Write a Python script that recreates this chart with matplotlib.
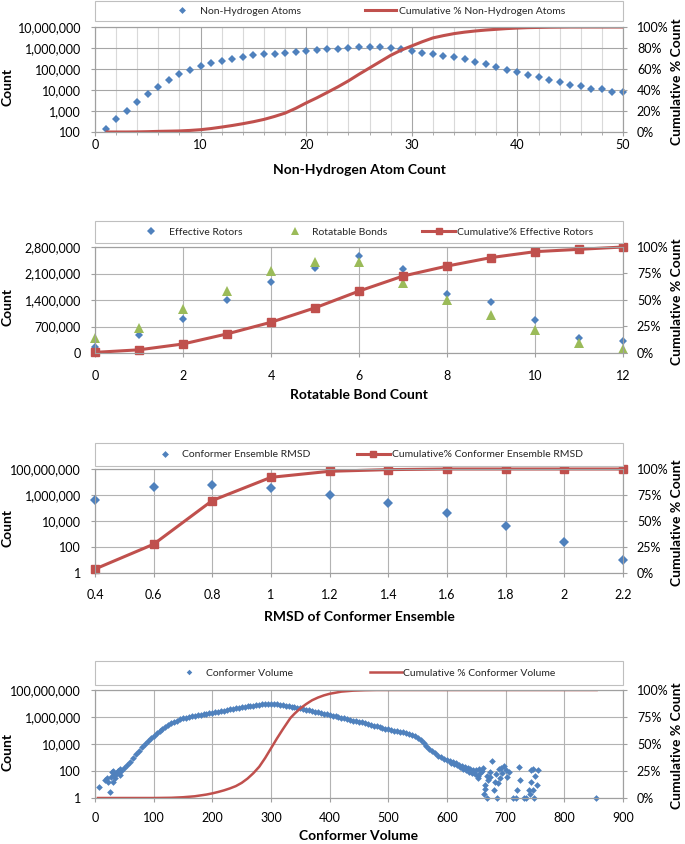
import matplotlib
matplotlib.use("Agg")
import matplotlib.pyplot as plt
from matplotlib.ticker import FuncFormatter, FixedLocator, MultipleLocator, NullLocator
from matplotlib.lines import Line2D
from matplotlib.patches import Rectangle

plt.rcParams['font.family'] = ['Lato', 'DejaVu Sans']

# ---------------- data ----------------
# Panel 1: non-hydrogen atoms
heavy_atoms = list(range(1, 51))
heavy_counts = [145, 420, 1050, 2600, 6300, 14000, 29000, 55000, 94000, 140000,
                190000, 250000, 310000, 370000, 450000, 500000, 540000, 600000, 660000, 710000,
                790000, 850000, 910000, 1000000, 1100000, 1100000, 1100000, 1000000, 920000, 720000,
                600000, 500000, 420000, 370000, 290000, 215000, 165000, 125000, 94000, 72000,
                52000, 41000, 29000, 24600, 17700, 15400, 11000, 11500, 7700, 7700]
heavy_cum_pct = [0, 0, 0, 0.1, 0.3, 0.6, 0.8, 1.0, 1.5, 2.2, 3.3, 4.7, 6.2, 7.9, 9.8, 12, 14.8, 18,
                 22.5, 27.7, 32.5, 37.7, 43, 48.7, 55, 61, 67, 73, 78, 82, 86, 89.6, 91.8, 93.7,
                 95.1, 96.2, 97.1, 97.8, 98.5, 99, 99.4, 99.6, 99.8, 99.9, 100, 100, 100, 100, 100, 100]

# Panel 2: rotatable bonds
rot_bonds = list(range(0, 13))
effective_rotors = [150000, 480000, 910000, 1404000, 1873000, 2235000, 2560000, 2210000,
                    1570000, 1340000, 883000, 389000, 327000]
rotatable_bonds = [400000, 662000, 1166000, 1650000, 2155000, 2400000, 2410000, 1855000,
                   1413000, 1016000, 618000, 265000, 106000]
rotors_cum_pct = [0.6, 3, 8.5, 18, 29, 42.6, 58.4, 72.6, 82, 90, 95.6, 97.8, 100]

# Panel 3: RMSD of conformer ensemble
rmsd = [0.4, 0.6, 0.8, 1.0, 1.2, 1.4, 1.6, 1.8, 2.0, 2.2]
rmsd_counts = [437000, 3900000, 6200000, 3200000, 980000, 224000, 43000, 4200, 250, 10]
rmsd_cum_pct = [3.8, 27.7, 69.7, 92, 97.8, 99.4, 100, 100, 100, 100]

# Panel 4: conformer volume
vol_left_x = [7, 17, 20, 23, 26, 27, 29, 30, 31, 32, 34, 36, 37, 39, 40, 42, 43]
vol_left_counts = [7, 21, 29, 16, 3, 38, 89, 16, 100, 50, 29, 60, 68, 100, 105, 130, 50]
vol_main_x = list(range(45, 601, 5))
vol_main_counts = [
    100, 160, 280, 500, 890, 1700, 3200, 5600, 10000, 18000,
    28000, 42000, 63000, 93000, 135000, 186000, 251000, 331000, 427000, 537000,
    661000, 776000, 891000, 1.0e6, 1.1e6, 1.2e6, 1.32e6, 1.45e6, 1.58e6, 1.74e6,
    1.91e6, 2.09e6, 2.29e6, 2.51e6, 2.75e6, 3.02e6, 3.31e6, 3.63e6, 3.98e6, 4.37e6,
    4.79e6, 5.25e6, 5.62e6, 6.03e6, 6.46e6, 6.92e6, 7.41e6, 7.94e6, 8.51e6, 8.91e6,
    9.33e6, 9.55e6, 9.55e6, 9.12e6, 8.32e6, 7.59e6, 6.92e6, 6.31e6, 5.75e6, 5.25e6,
    4.79e6, 4.37e6, 3.89e6, 3.47e6, 3.09e6, 2.75e6, 2.45e6, 2.19e6, 1.95e6, 1.74e6,
    1.55e6, 1.38e6, 1.23e6, 1.1e6, 9.77e5, 8.71e5, 7.76e5, 6.92e5, 6.17e5, 5.5e5,
    4.9e5, 4.47e5, 3.98e5, 3.55e5, 3.09e5, 2.69e5, 2.34e5, 2.04e5, 1.78e5, 1.55e5,
    1.38e5, 1.26e5, 1.12e5, 1.0e5, 9.12e4, 8.13e4, 7.24e4, 6.31e4, 5.5e4, 4.79e4,
    3.8e4, 2.82e4, 1.91e4, 1.2e4, 7100, 4200, 2800, 2000, 1400, 1050,
    830, 680]
vol_tail_x = [605, 607, 610, 612, 615, 617, 620, 622, 625, 627, 630, 632, 635, 637, 640, 642,
              645, 647, 650, 652, 655, 657, 660, 662,
              653, 663, 664, 665, 668, 669, 670, 673, 674, 677, 680, 681, 683, 686, 687, 688,
              690, 692, 694, 697, 700, 702, 705, 712, 717, 720, 723, 724, 731, 735, 739, 742,
              743, 744, 746, 747, 748, 750, 754, 755, 854]
vol_tail_counts = [560, 420, 460, 330, 380, 260, 300, 200, 240, 150, 200, 110, 160, 90, 130, 70,
                   120, 60, 110, 45, 140, 70, 100, 180,
                   29, 2, 9, 5, 40, 1, 20, 90, 38, 550, 4, 16, 60, 1, 13, 150,
                   30, 160, 76, 250, 120, 38, 90, 1, 1, 4, 210, 21, 1, 1, 4, 2,
                   16, 120, 4, 150, 1, 40, 9, 120, 1]
vol_cum_x = [5, 50, 100, 130, 150, 170, 190, 200, 210, 220, 230, 240, 250, 260, 270, 280, 290,
             300, 310, 320, 333, 340, 350, 360, 370, 380, 390, 400, 420, 440, 460, 480, 855]
vol_cum_pct = [0, 0, 0, 0.2, 0.7, 1.6, 3.2, 4.3, 5.6, 7.1, 8.9, 11, 14, 18, 23, 29, 37,
               46, 55, 63.5, 74, 78, 83, 87, 90.5, 93, 95, 96.5, 98.5, 99.4, 99.8, 100, 100]

# ---------------- style ----------------
BLUE = '#4F81BD'
RED = '#C0504D'
GREEN = '#9BBB59'
GRID = '#b3b3b3'
AXC = '#a0a0a0'
W, H = 685, 844
L, R = 95, 623

fig = plt.figure(figsize=(W / 100, H / 100), dpi=100)


def fx(x):
    return x / W


def fy(y):
    return 1 - y / H


def px(frac):
    return L + frac * (R - L)


def make_axes(top, bottom):
    ax = fig.add_axes([fx(L), fy(bottom), (R - L) / W, (bottom - top) / H])
    ax2 = ax.twinx()
    for a in (ax, ax2):
        for sp in a.spines.values():
            sp.set_color(AXC)
            sp.set_linewidth(0.8)
    ax.set_axisbelow(True)
    ax.tick_params(axis='both', which='major', colors=AXC, labelcolor='black',
                   length=3, width=0.8, labelsize=9)
    ax2.tick_params(axis='y', colors=AXC, labelcolor='black', length=3, width=0.8,
                    labelsize=9, pad=7)
    ax.tick_params(axis='y', pad=7)
    ax2.set_ylim(0, 100)
    ax2.yaxis.set_major_formatter(FuncFormatter(lambda v, p: f"{v:.0f}%"))
    return ax, ax2


def labels(ax, ax2, xlabel, tick_center, label_center, top, bottom):
    hgt = bottom - top
    gap_px = tick_center - 7 - bottom
    ax.tick_params(axis='x', pad=max(gap_px * 0.72 - 3, 0))
    ax.set_xlabel(xlabel, fontsize=10, fontweight='bold')
    ax.xaxis.label.set_va('center')
    ax.xaxis.set_label_coords(0.5, -(label_center - bottom) / hgt)
    ax.set_ylabel('Count', fontsize=10, fontweight='bold')
    ax.yaxis.label.set_va('center')
    ax.yaxis.set_label_coords((8 - L) / (R - L), 0.43)
    ax2.set_ylabel('Cumulative % Count', fontsize=10, fontweight='bold')
    ax2.yaxis.label.set_va('center')
    ax2.yaxis.set_label_coords((677 - L) / (R - L), 0.48)


def legend_box(top, bottom):
    fig.add_artist(Rectangle((fx(L), fy(bottom)), (R - L) / W, (bottom - top) / H,
                             transform=fig.transFigure, facecolor='white',
                             edgecolor='#bfbfbf', linewidth=0.8))


def legend_entry(handle, label, hx0, hx1, tx, yc, fs=7.5):
    fs_px = fs * 100 / 72
    fig.legend(handles=[handle], labels=[label], loc='center left',
               bbox_to_anchor=(fx(hx0), fy(yc)), bbox_transform=fig.transFigure,
               frameon=False, fontsize=fs, handlelength=(hx1 - hx0) / fs_px,
               handletextpad=(tx - hx1) / fs_px, borderpad=0, borderaxespad=0,
               numpoints=1, labelcolor='#262626')


def marker_entry(handle, label, frac_marker, frac_text, yc):
    m = px(frac_marker)
    legend_entry(handle, label, m - 5, m + 5, px(frac_text), yc)


def line_entry(handle, label, f0, f1, ft, yc):
    legend_entry(handle, label, px(f0), px(f1), px(ft), yc)


comma = FuncFormatter(lambda v, p: f"{v:,.0f}")

# ---------------- panel 1 ----------------
t1, b1 = 27, 132
ax, ax2 = make_axes(t1, b1)
ax.set_yscale('log')
ax.set_ylim(100, 1e7)
ax.yaxis.set_major_locator(FixedLocator([1e2, 1e3, 1e4, 1e5, 1e6, 1e7]))
ax.yaxis.set_minor_locator(NullLocator())
ax.yaxis.set_major_formatter(comma)
ax.set_xlim(0, 50)
ax.xaxis.set_major_locator(MultipleLocator(10))
ax.xaxis.set_minor_locator(MultipleLocator(2))
ax.tick_params(axis='x', which='minor', length=2, colors=AXC)
ax.grid(True, which='major', color='#a6a6a6', linewidth=0.8)
ax.grid(True, which='minor', axis='x', color='#d9d9d9', linewidth=0.8)
ax.plot(heavy_atoms, heavy_counts, linestyle='none', marker='D', markersize=4.2,
        color=BLUE, markeredgewidth=0, clip_on=False, zorder=3)
ax2.plot(heavy_atoms, heavy_cum_pct, color=RED, linewidth=2.2, solid_capstyle='butt')
ax2.yaxis.set_major_locator(MultipleLocator(20))
labels(ax, ax2, 'Non-Hydrogen Atom Count', 146, 170, t1, b1)
legend_box(1, 21)
marker_entry(Line2D([], [], ls='none', marker='D', ms=3.5, color=BLUE, mew=0),
             'Non-Hydrogen Atoms', 0.165, 0.198, 11)
line_entry(Line2D([], [], color=RED, lw=2.2), 'Cumulative % Non-Hydrogen Atoms',
           0.512, 0.570, 0.575, 11)

# ---------------- panel 2 ----------------
t2, b2 = 247, 353
ax, ax2 = make_axes(t2, b2)
ax.set_ylim(0, 2800000)
ax.yaxis.set_major_locator(MultipleLocator(700000))
ax.yaxis.set_major_formatter(comma)
ax.set_xlim(0, 12)
ax.xaxis.set_major_locator(MultipleLocator(2))
ax.grid(True, which='major', color=GRID, linewidth=0.8)
ax.plot(rot_bonds, effective_rotors, linestyle='none', marker='D', markersize=4.3,
        color=BLUE, markeredgewidth=0, clip_on=False, zorder=3)
ax.plot(rot_bonds, rotatable_bonds, linestyle='none', marker='^', markersize=7,
        color=GREEN, markeredgewidth=0, clip_on=False, zorder=3)
ax2.plot(rot_bonds, rotors_cum_pct, color=RED, linewidth=2.2, marker='s', markersize=5.5,
         clip_on=False)
ax2.yaxis.set_major_locator(MultipleLocator(25))
labels(ax, ax2, 'Rotatable Bond Count', 377, 395, t2, b2)
legend_box(221, 243)
marker_entry(Line2D([], [], ls='none', marker='D', ms=3.8, color=BLUE, mew=0),
             'Effective Rotors', 0.107, 0.140, 232)
marker_entry(Line2D([], [], ls='none', marker='^', ms=6, color=GREEN, mew=0),
             'Rotatable Bonds', 0.378, 0.411, 232)
line_entry(Line2D([], [], color=RED, lw=2.2, marker='s', ms=5),
           'Cumulative% Effective Rotors', 0.620, 0.682, 0.686, 232)

# ---------------- panel 3 ----------------
t3, b3 = 469, 573
ax, ax2 = make_axes(t3, b3)
ax.set_yscale('log')
ax.set_ylim(1, 1e8)
ax.yaxis.set_major_locator(FixedLocator([1, 1e2, 1e4, 1e6, 1e8]))
ax.yaxis.set_minor_locator(NullLocator())
ax.yaxis.set_major_formatter(comma)
ax.set_xlim(0.4, 2.2)
ax.xaxis.set_major_locator(FixedLocator(rmsd))
ax.xaxis.set_major_formatter(FuncFormatter(lambda v, p: f"{v:g}"))
ax.grid(True, which='major', color=GRID, linewidth=0.8)
ax.plot(rmsd, rmsd_counts, linestyle='none', marker='D', markersize=4.8,
        color=BLUE, markeredgewidth=0, clip_on=False, zorder=3)
ax2.plot(rmsd, rmsd_cum_pct, color=RED, linewidth=2.2, marker='s', markersize=5.8,
         clip_on=False)
ax2.yaxis.set_major_locator(MultipleLocator(25))
labels(ax, ax2, 'RMSD of Conformer Ensemble', 596, 617, t3, b3)
legend_box(443, 466)
marker_entry(Line2D([], [], ls='none', marker='D', ms=3.5, color=BLUE, mew=0),
             'Conformer Ensemble RMSD', 0.132, 0.165, 454.5)
line_entry(Line2D([], [], color=RED, lw=2.2, marker='s', ms=5),
           'Cumulative% Conformer Ensemble RMSD', 0.496, 0.558, 0.562, 454.5)

# ---------------- panel 4 ----------------
t4, b4 = 690, 798
ax, ax2 = make_axes(t4, b4)
ax.set_yscale('log')
ax.set_ylim(1, 1e8)
ax.yaxis.set_major_locator(FixedLocator([1, 1e2, 1e4, 1e6, 1e8]))
ax.yaxis.set_minor_locator(NullLocator())
ax.yaxis.set_major_formatter(comma)
ax.set_xlim(0, 900)
ax.xaxis.set_major_locator(MultipleLocator(100))
ax.grid(True, which='major', color=GRID, linewidth=0.8)
for xs, ys in ((vol_left_x, vol_left_counts), (vol_main_x, vol_main_counts),
               (vol_tail_x, vol_tail_counts)):
    ax.plot(xs, ys, linestyle='none', marker='D', markersize=3.4, color=BLUE,
            markeredgewidth=0, clip_on=False, zorder=3)
ax2.plot(vol_cum_x, vol_cum_pct, color=RED, linewidth=1.8)
ax2.yaxis.set_major_locator(MultipleLocator(25))
labels(ax, ax2, 'Conformer Volume', 819, 836, t4, b4)
legend_box(661, 685)
marker_entry(Line2D([], [], ls='none', marker='D', ms=2.8, color=BLUE, mew=0),
             'Conformer Volume', 0.178, 0.211, 673)
line_entry(Line2D([], [], color=RED, lw=1.8), 'Cumulative % Conformer Volume',
           0.521, 0.581, 0.584, 673)

fig.savefig('out.png', dpi=100)
